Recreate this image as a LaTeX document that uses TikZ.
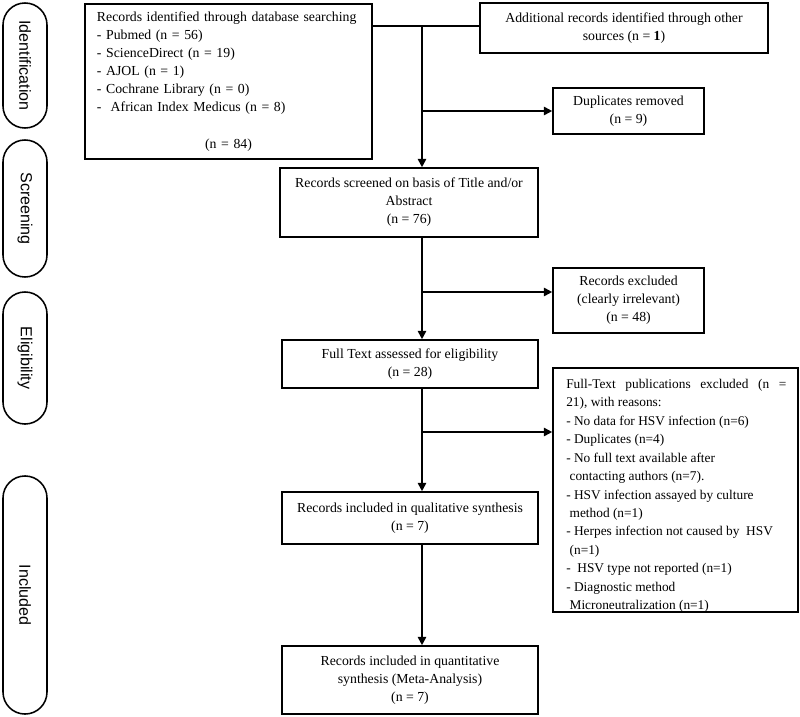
\documentclass[tikz,border=0pt]{standalone}
\usepackage{fontspec}
\setmainfont{Liberation Serif}
\newfontfamily\pillfont{Liberation Sans}
\usetikzlibrary{arrows.meta}

\tikzset{
  box/.style={draw, line width=1.1pt, align=center, inner sep=0pt,
    font=\fontsize{9.8}{12.8}\selectfont},
  phase/.style={draw, line width=1.1pt, rounded corners=0.55cm, rotate=-90,
    minimum height=1.1cm, inner sep=0pt, font=\pillfont\fontsize{11.4}{13}\selectfont},
  flow/.style={line width=1.2pt, -{Triangle[length=6pt,width=6pt]}},
}

\begin{document}
\begin{tikzpicture}[x=0.025cm, y=-0.025cm]
  \useasboundingbox (0,0) rectangle (800,716);

  % phases on the left
  \foreach \y/\h/\name/\txt in {65.5/3.125/ident/Identification,
      208.5/3.425/screen/Screening, 358/3.3/elig/Eligibility, 595/5.95/incl/Included}
    \node[phase, minimum width=\h cm] (\name) at (25,\y) {\txt};

  % boxes
  \node[box, minimum width=7.175cm, minimum height=3.875cm, text width=6.575cm, align=left] (id) at (228.5,81.5)
    {Records identified through database searching\\
     - Pubmed (n = 56)\\
     - ScienceDirect (n = 19)\\
     - AJOL (n = 1)\\
     - Cochrane Library (n = 0)\\
     -\ \ African Index Medicus (n = 8)\\[14pt]
     \hspace*{\fill}(n = 84)\hspace*{\fill}\null};
  \node[box, minimum width=7.2cm, minimum height=1.25cm] (other) at (624,28)
    {Additional records identified through other\\ sources (n = \textbf{1})};
  \node[box, minimum width=3.775cm, minimum height=1.15cm] (dup) at (628.5,111)
    {Duplicates removed\\ (n = 9)};
  \node[box, minimum width=6.45cm, minimum height=1.725cm] (scr) at (409,202.5)
    {Records screened on basis of Title and/or\\ Abstract\\ (n = 76)};
  \node[box, minimum width=3.775cm, minimum height=1.625cm] (excl1) at (628.5,300.5)
    {Records excluded\\ (clearly irrelevant)\\ (n = 48)};
  \node[box, minimum width=6.4cm, minimum height=1.2cm] (full) at (410,364)
    {Full Text assessed for eligibility\\ (n = 28)};
  \node[box, minimum width=6.125cm, minimum height=6.1cm] (excl2) at (675.5,490) {};
  \node[box, minimum width=6.4cm, minimum height=1.3cm] (qual) at (410,518)
    {Records included in qualitative synthesis\\ (n = 7)};
  \node[box, minimum width=6.4cm, minimum height=1.7cm] (quant) at (410,680)
    {Records included in quantitative\\ synthesis (Meta-Analysis)\\ (n = 7)};

  % reasons, cut off at the bottom of the box
  \begin{scope}
    \clip (excl2.south west) rectangle (excl2.north east);
    \node[anchor=north west, inner sep=0pt, text width=5.5cm, align=justify,
      font=\fontsize{9.5}{13.1}\selectfont] (excl2txt) at (566,379)
      {Full-Text publications excluded (n =\linebreak 21), with reasons:\\
       - No data for HSV infection (n=6)\\
       - Duplicates (n=4)\\
       - No full text available after\\
       \hspace*{0.25em}contacting authors (n=7).\\
       - HSV infection assayed by culture\\
       \hspace*{0.25em}method (n=1)\\
       - Herpes infection not caused by\ \ HSV\\
       \hspace*{0.25em}(n=1)\\
       -\ \ HSV type not reported (n=1)\\
       - Diagnostic method\\
       \hspace*{0.25em}Microneutralization (n=1)};
  \end{scope}

  % connectors
  \coordinate (j1) at (422,26);
  \coordinate (j3) at (422,292);
  \coordinate (j4) at (422,432);
  \draw[line width=1.2pt] (id.east |- j1) -- (other.west |- j1);
  \draw[flow] (j1) -- (j1 |- scr.north);
  \draw[flow] (j1 |- dup.west) -- (dup.west);
  \draw[flow] (j3) -- (j3 -| excl1.west);
  \draw[flow] (j4) -- (j4 -| excl2.west);
  \foreach \a/\b in {scr/full, full/qual, qual/quant}
    \draw[flow] (j1 |- \a.south) -- (j1 |- \b.north);
\end{tikzpicture}
\end{document}
